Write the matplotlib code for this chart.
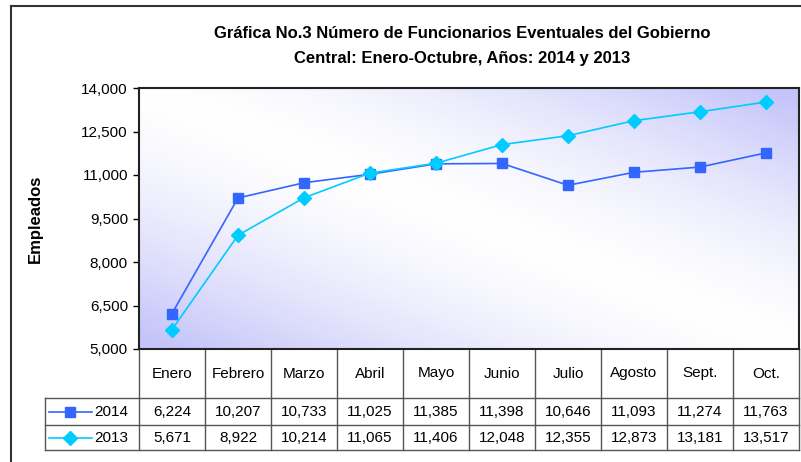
import numpy as np
import matplotlib.pyplot as plt
from matplotlib.lines import Line2D
import matplotlib.transforms as mtransforms

plt.rcParams['font.family'] = ['Liberation Sans', 'DejaVu Sans']

meses = ['Enero', 'Febrero', 'Marzo', 'Abril', 'Mayo', 'Junio', 'Julio',
         'Agosto', 'Sept.', 'Oct.']
v2014 = [6224, 10207, 10733, 11025, 11385, 11398, 10646, 11093, 11274, 11763]
v2013 = [5671, 8922, 10214, 11065, 11406, 12048, 12355, 12873, 13181, 13517]
yticks = [5000, 6500, 8000, 9500, 11000, 12500, 14000]

c2014 = '#3366ff'
c2013 = '#00ccff'
W, H = 801, 462

fig = plt.figure(figsize=(W / 100, H / 100), dpi=100)

# marco exterior
fig.add_artist(Line2D([11 / W, 1], [1 - 6 / H, 1 - 6 / H], color='#333333', lw=1.5))
fig.add_artist(Line2D([11 / W, 11 / W], [0, 1 - 6 / H], color='#333333', lw=1.5))

left, right, top, bottom = 139, 799, 88, 349
ax = fig.add_axes([left / W, 1 - bottom / H, (right - left) / W, (bottom - top) / H])

# fondo degradado
u = np.linspace(0, 1, 300)
v = np.linspace(1, 0, 150)
U, V = np.meshgrid(u, v)
t = np.clip(np.abs(U + V - 1) * 1.05, 0, 1) ** 1.5
lav = np.array([196, 196, 250]) / 255
img = (1 - t[..., None]) * np.ones(3) + t[..., None] * lav
ax.imshow(img, extent=[0, 1, 0, 1], transform=ax.transAxes, aspect='auto', zorder=0)

x = np.arange(len(meses))
ax.plot(x, v2014, color=c2014, lw=1.2, marker='s', ms=7.5, zorder=3)
ax.plot(x, v2013, color=c2013, lw=1.2, marker='D', ms=7.5, zorder=3)

ax.set_xlim(-0.5, len(meses) - 0.5)
ax.set_ylim(5000, 14000)
ax.set_yticks(yticks)
ax.set_yticklabels([f'{t:,}' for t in yticks], fontsize=11)
ax.tick_params(axis='y', length=4, width=1, direction='out', pad=4)
ax.set_xticks([])
for s in ax.spines.values():
    s.set_color('#222222')
    s.set_linewidth(1.5)
ax.set_ylabel('Empleados', fontsize=12, fontweight='bold', labelpad=28)

fig.text(462 / W, 1 - 33 / H, 'Gráfica No.3 Número de Funcionarios Eventuales del Gobierno',
         ha='center', va='center', fontsize=12, fontweight='bold')
fig.text(462 / W, 1 - 58 / H, 'Central: Enero-Octubre, Años: 2014 y 2013',
         ha='center', va='center', fontsize=12, fontweight='bold')

# tabla de datos
tr = mtransforms.blended_transform_factory(ax.transData, ax.transAxes)
ph = bottom - top
y_h = -49 / ph
y_1 = -76 / ph
y_2 = -101 / ph
xl = -0.5 - 94 / 66
gc = '#555555'
lw = 1
n = len(meses)
for i in range(n + 1):
    ax.add_line(Line2D([i - 0.5, i - 0.5], [0, y_2], transform=tr, color=gc, lw=lw, clip_on=False))
ax.add_line(Line2D([xl, xl], [y_h, y_2], transform=tr, color=gc, lw=lw, clip_on=False))
for yy in (y_h, y_1, y_2):
    ax.add_line(Line2D([xl, n - 0.5], [yy, yy], transform=tr, color=gc, lw=lw, clip_on=False))

for i, m in enumerate(meses):
    ax.text(i, y_h / 2, m, transform=tr, ha='center', va='center', fontsize=11)
    ax.text(i, (y_h + y_1) / 2, f'{v2014[i]:,}', transform=tr, ha='center', va='center', fontsize=11)
    ax.text(i, (y_1 + y_2) / 2, f'{v2013[i]:,}', transform=tr, ha='center', va='center', fontsize=11)

for yy, col, mk, lab in (((y_h + y_1) / 2, c2014, 's', '2014'),
                          ((y_1 + y_2) / 2, c2013, 'D', '2013')):
    ax.add_line(Line2D([-0.5 - 90 / 66, -0.5 - 47 / 66], [yy, yy], transform=tr, color=col,
                       lw=1.2, clip_on=False))
    ax.add_line(Line2D([-0.5 - 69 / 66], [yy], transform=tr, color=col, marker=mk, ms=7.5,
                       clip_on=False))
    ax.text(-0.5 - 45 / 66, yy, lab, transform=tr, ha='left', va='center', fontsize=11)

fig.savefig('out.png', dpi=100)
